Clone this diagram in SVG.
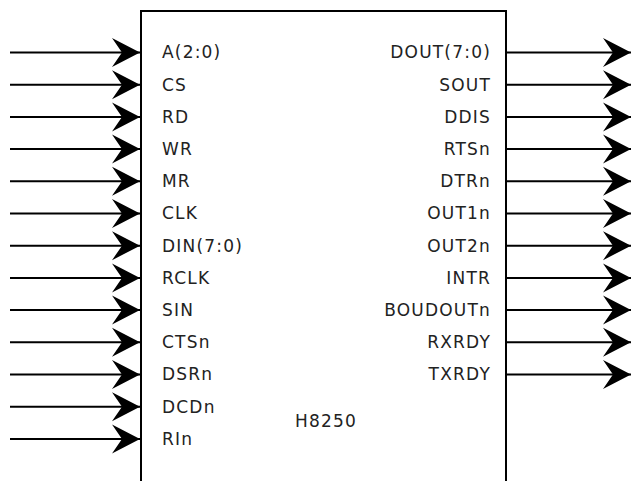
<svg xmlns="http://www.w3.org/2000/svg" width="632" height="481" viewBox="0 0 632 481">
<style>
.lbl{font-family:"DejaVu Sans",Verdana,sans-serif;font-size:17px;letter-spacing:1.2px;fill:#222}
.r{text-anchor:end}
.wire{stroke:#000;stroke-width:2;fill:none;marker-end:url(#ah)}
</style>
<defs>
<marker id="ah" markerUnits="userSpaceOnUse" viewBox="-29 -15 31 30" refX="0" refY="0" markerWidth="31" markerHeight="30" orient="auto">
<path d="M0,0 L-28,-14.5 L-18,0 L-28,14.5 Z" fill="#000"/>
</marker>
</defs>
<rect width="632" height="481" fill="#fff"/>
<g id="h8250">
<path d="M141,490 V11 H506 V490" fill="#fff" stroke="#000" stroke-width="2"/>
<g class="lbl">
<text x="162" y="58.3">A(2:0)</text>
<text x="162" y="90.5">CS</text>
<text x="162" y="122.7">RD</text>
<text x="162" y="154.9">WR</text>
<text x="162" y="187.1">MR</text>
<text x="162" y="219.3">CLK</text>
<text x="162" y="251.5">DIN(7:0)</text>
<text x="162" y="283.7">RCLK</text>
<text x="162" y="315.9">SIN</text>
<text x="162" y="348.1">CTSn</text>
<text x="162" y="380.3">DSRn</text>
<text x="162" y="412.5">DCDn</text>
<text x="162" y="444.7">RIn</text>
<text class="r" x="491" y="58.3">DOUT(7:0)</text>
<text class="r" x="491" y="90.5">SOUT</text>
<text class="r" x="491" y="122.7">DDIS</text>
<text class="r" x="491" y="154.9">RTSn</text>
<text class="r" x="491" y="187.1">DTRn</text>
<text class="r" x="491" y="219.3">OUT1n</text>
<text class="r" x="491" y="251.5">OUT2n</text>
<text class="r" x="491" y="283.7">INTR</text>
<text class="r" x="491" y="315.9">BOUDOUTn</text>
<text class="r" x="491" y="348.1">RXRDY</text>
<text class="r" x="491" y="380.3">TXRDY</text>
<text x="295" y="426.5">H8250</text>
</g>
</g>
<g id="connectors">
<path class="wire" d="M10,52.5 H140"/>
<path class="wire" d="M10,84.7 H140"/>
<path class="wire" d="M10,116.9 H140"/>
<path class="wire" d="M10,149.1 H140"/>
<path class="wire" d="M10,181.3 H140"/>
<path class="wire" d="M10,213.5 H140"/>
<path class="wire" d="M10,245.7 H140"/>
<path class="wire" d="M10,277.9 H140"/>
<path class="wire" d="M10,310.1 H140"/>
<path class="wire" d="M10,342.3 H140"/>
<path class="wire" d="M10,374.5 H140"/>
<path class="wire" d="M10,406.7 H140"/>
<path class="wire" d="M10,438.9 H140"/>
<path class="wire" d="M507,52.5 H631"/>
<path class="wire" d="M507,84.7 H631"/>
<path class="wire" d="M507,116.9 H631"/>
<path class="wire" d="M507,149.1 H631"/>
<path class="wire" d="M507,181.3 H631"/>
<path class="wire" d="M507,213.5 H631"/>
<path class="wire" d="M507,245.7 H631"/>
<path class="wire" d="M507,277.9 H631"/>
<path class="wire" d="M507,310.1 H631"/>
<path class="wire" d="M507,342.3 H631"/>
<path class="wire" d="M507,374.5 H631"/>
</g>
</svg>
